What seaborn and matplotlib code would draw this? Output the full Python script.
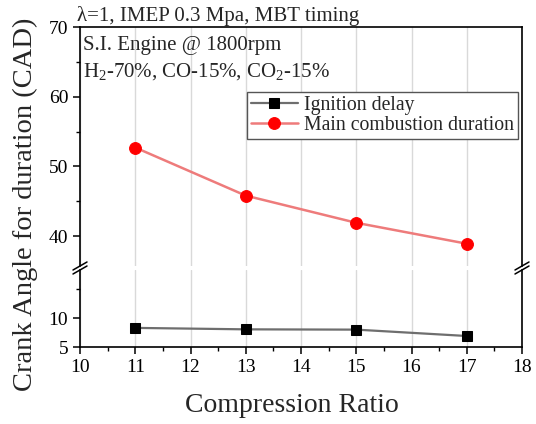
import matplotlib
matplotlib.use("Agg")
import matplotlib.pyplot as plt
from matplotlib.ticker import MultipleLocator, FixedLocator
import seaborn as sns
import pandas as pd

# ---- data ----
compression_ratio = [11, 13, 15, 17]
ignition_delay = [8.3, 8.05, 8.0, 6.9]
main_combustion = [52.7, 45.8, 41.9, 38.9]
series_names = ["Ignition delay", "Main combustion duration"]

sns.set_style("ticks")
plt.rcParams["font.family"] = ["Liberation Serif", "DejaVu Serif"]
plt.rcParams["mathtext.fontset"] = "custom"
plt.rcParams["mathtext.rm"] = "Liberation Serif"
plt.rcParams["mathtext.it"] = "Liberation Serif:italic"

W, H = 536, 424
fig = plt.figure(figsize=(W / 100, H / 100), dpi=100)

def fx(px):
    return px / W

def fy(py):
    return 1 - py / H

left, right = 80, 522
ax_up = fig.add_axes([fx(left), fy(266), fx(right - left), fy(27) - fy(266)])
ax_lo = fig.add_axes([fx(left), fy(347), fx(right - left), fy(270) - fy(347)])

df_ig = pd.DataFrame({"x": compression_ratio, "y": ignition_delay})
df_mc = pd.DataFrame({"x": compression_ratio, "y": main_combustion})

for ax in (ax_up, ax_lo):
    ax.set_xlim(10, 18)
    ax.xaxis.set_major_locator(MultipleLocator(1))
    ax.xaxis.set_minor_locator(MultipleLocator(0.5))
    ax.grid(axis="x", which="major", color="#d9d9d9", linewidth=1.0)
    ax.set_axisbelow(True)
    for sp in ax.spines.values():
        sp.set_color("black")
        sp.set_linewidth(1.2)
    ax.tick_params(which="major", direction="out", length=5, width=1.1,
                   labelsize=14, colors="black")
    ax.tick_params(which="minor", direction="out", length=3, width=1.0,
                   colors="black")
    sns.lineplot(data=df_ig, x="x", y="y", ax=ax, color="#6e6e6e", lw=1.6,
                 marker="s", markersize=7, markerfacecolor="black",
                 markeredgecolor="black", label=series_names[0], clip_on=True)
    sns.lineplot(data=df_mc, x="x", y="y", ax=ax, color="#ee7b7b", lw=1.8,
                 marker="o", markersize=8.5, markerfacecolor="#ff0000",
                 markeredgecolor="#ff0000", label=series_names[1], clip_on=True)
    ax.set_xlabel("")
    ax.set_ylabel("")

# upper axis
ax_up.set_ylim(35.7, 70)
ax_up.yaxis.set_major_locator(FixedLocator([40, 50, 60, 70]))
ax_up.yaxis.set_minor_locator(FixedLocator([45, 55, 65]))
ax_up.spines["bottom"].set_visible(False)
ax_up.tick_params(axis="x", which="both", bottom=False, labelbottom=False)

# lower axis
ax_lo.set_ylim(5, 18.3)
ax_lo.yaxis.set_major_locator(FixedLocator([5, 10]))
ax_lo.yaxis.set_minor_locator(FixedLocator([15]))
ax_lo.spines["top"].set_visible(False)
ax_lo.get_legend().remove()

# legend
handles, labels = ax_up.get_legend_handles_labels()
leg = ax_up.legend(handles, labels, loc="upper right",
                   bbox_to_anchor=(fx(518), fy(92)), bbox_transform=fig.transFigure,
                   borderaxespad=0, fontsize=14.2, frameon=True, fancybox=False,
                   edgecolor="#555555", framealpha=1, handlelength=2.4,
                   handletextpad=0.3, labelspacing=0.05, borderpad=0.2)
leg.get_frame().set_linewidth(1.0)

# break marks
for xp in (left, right):
    for yp in (266, 270):
        fig.add_artist(plt.Line2D([fx(xp - 7), fx(xp + 7)], [fy(yp + 4), fy(yp - 4)],
                                  transform=fig.transFigure, color="black", lw=1.1))

# texts
fig.text(fx(77), fy(21), "λ=1, IMEP 0.3 Mpa, MBT timing", fontsize=15,
         va="baseline", ha="left")
fig.text(fx(83), fy(50), "S.I. Engine @ 1800rpm", fontsize=15,
         va="baseline", ha="left")
fig.text(fx(83), fy(77), "H$_2$-70%, CO-15%, CO$_2$-15%", fontsize=15,
         va="baseline", ha="left")

fig.text(fx(292), fy(405), "Compression Ratio", fontsize=20, ha="center", va="center")
fig.text(fx(25), fy(204), "Crank Angle for duration (CAD)", fontsize=20.5,
         ha="center", va="center", rotation=90)

fig.savefig("out.png", dpi=100)
